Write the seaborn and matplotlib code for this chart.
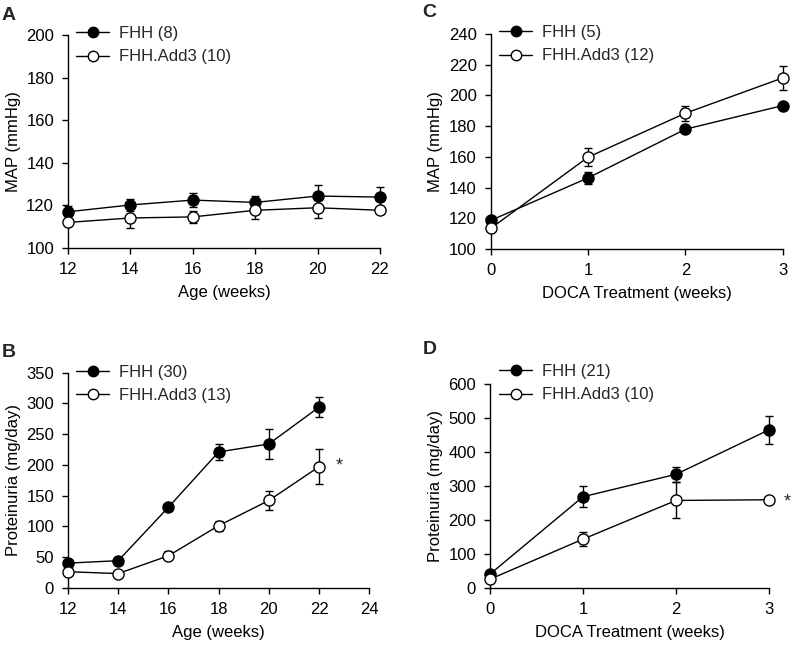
import numpy as np
import pandas as pd
import matplotlib
matplotlib.use("Agg")
import matplotlib.pyplot as plt
import seaborn as sns
from matplotlib.lines import Line2D

# ---------------- data ----------------
age_weeks = [12, 14, 16, 18, 20, 22]
doca_weeks = [0, 1, 2, 3]

# Panel A: MAP vs age
a_fhh = [117, 120.2, 122.5, 121.4, 124.4, 123.9]
a_fhh_err = [2.7, 2.6, 3.1, 2.8, 5.1, 4.7]
a_add3 = [112.0, 114.1, 114.6, 117.7, 118.9, 117.7]
a_add3_err = [1.0, 4.6, 2.7, 3.9, 4.8, 1.0]
a_labels = ["FHH (8)", "FHH.Add3 (10)"]

# Panel B: proteinuria vs age
b_fhh = [40, 44, 131, 221, 234, 294]
b_fhh_err = [3, 3, 4, 12.5, 25, 16]
b_add3 = [26, 23, 52, 101, 142, 197]
b_add3_err = [3, 3, 7, 8, 15, 28]
b_labels = ["FHH (30)", "FHH.Add3 (13)"]

# Panel C: MAP vs DOCA
c_fhh = [118.6, 146.3, 178.0, 193.4]
c_fhh_err = [1.0, 4.0, 1.5, 1.0]
c_add3 = [113.4, 159.8, 188.4, 211.4]
c_add3_err = [1.0, 6.0, 4.8, 8.0]
c_labels = ["FHH (5)", "FHH.Add3 (12)"]

# Panel D: proteinuria vs DOCA
d_fhh = [40, 268, 334, 465]
d_fhh_err = [5, 31, 22, 42]
d_add3 = [25, 143, 257, 259]
d_add3_err = [3, 20, 53, 2]
d_labels = ["FHH (21)", "FHH.Add3 (10)"]

# ---------------- style ----------------
sns.set_style("ticks")
plt.rcParams["font.family"] = ["Liberation Sans", "DejaVu Sans"]
FS = 12
plt.rcParams["font.size"] = FS
plt.rcParams["axes.linewidth"] = 1.0
plt.rcParams["xtick.color"] = "black"
plt.rcParams["ytick.color"] = "black"
plt.rcParams["axes.edgecolor"] = "black"
plt.rcParams["axes.labelcolor"] = "black"

fig = plt.figure(figsize=(7.96, 6.45), dpi=100)

W, H = 796, 645
def axes_px(left, right, top, bottom):
    return fig.add_axes([left / W, (H - bottom) / H, (right - left) / W, (bottom - top) / H])

axA = axes_px(68, 380, 35, 248)
axC = axes_px(490.7, 782.7, 34, 249)
axB = axes_px(68, 369.3, 372.7, 587.7)
axD = axes_px(490, 769, 384, 587.7)

MS = 8

def draw(ax, x, fhh, fhh_err, add3, add3_err, labels):
    df = pd.DataFrame({
        "x": list(x) * 2,
        "y": list(fhh) + list(add3),
        "group": [labels[0]] * len(x) + [labels[1]] * len(x),
    })
    ax.errorbar(x, fhh, yerr=fhh_err, fmt="none", ecolor="black", elinewidth=1.0,
                capsize=3, capthick=1.0, zorder=2, clip_on=False)
    ax.errorbar(x, add3, yerr=add3_err, fmt="none", ecolor="black", elinewidth=1.0,
                capsize=3, capthick=1.0, zorder=2, clip_on=False)
    sns.lineplot(data=df[df.group == labels[0]], x="x", y="y", ax=ax, color="black",
                 linewidth=1.0, marker="o", markersize=MS, markerfacecolor="black",
                 markeredgecolor="black", markeredgewidth=1.0, legend=False, zorder=3,
                 clip_on=False)
    sns.lineplot(data=df[df.group == labels[1]], x="x", y="y", ax=ax, color="black",
                 linewidth=1.0, marker="o", markersize=MS, markerfacecolor="white",
                 markeredgecolor="black", markeredgewidth=1.0, legend=False, zorder=4,
                 clip_on=False)
    handles = [
        Line2D([], [], color="black", lw=1.0, marker="o", markersize=MS - 0.5,
               markerfacecolor="black", markeredgecolor="black"),
        Line2D([], [], color="black", lw=1.0, marker="o", markersize=MS - 0.5,
               markerfacecolor="white", markeredgecolor="black"),
    ]
    return handles

def legend(ax, handles, labels, y_top_px, left_px, ax_left_px, ax_top_px, ax_h_px):
    ax.legend(handles, labels, loc="upper left", frameon=False, fontsize=FS,
              handlelength=2.0, handletextpad=0.6, labelspacing=0.5, borderpad=0,
              borderaxespad=0,
              bbox_to_anchor=((left_px - ax_left_px) / (ax.get_position().width * W),
                              1 + (ax_top_px - y_top_px) / ax_h_px))

# Panel A
h = draw(axA, age_weeks, a_fhh, a_fhh_err, a_add3, a_add3_err, a_labels)
axA.set_xlim(12, 22)
axA.set_ylim(100, 200)
axA.set_xticks(age_weeks)
axA.set_yticks([100, 120, 140, 160, 180, 200])
axA.set_xlabel("Age (weeks)")
axA.set_ylabel("MAP (mmHg)")
legend(axA, h, a_labels, 26, 76, 68, 35, 213)

# Panel B
h = draw(axB, age_weeks, b_fhh, b_fhh_err, b_add3, b_add3_err, b_labels)
axB.set_xlim(12, 24)
axB.set_ylim(0, 350)
axB.set_xticks([12, 14, 16, 18, 20, 22, 24])
axB.set_yticks([0, 50, 100, 150, 200, 250, 300, 350])
axB.set_xlabel("Age (weeks)")
axB.set_ylabel("Proteinuria (mg/day)")
axB.text(22.8, 198, "*", ha="center", va="center", fontsize=13)
legend(axB, h, b_labels, 364.5, 76, 68, 372.7, 215)

# Panel C
h = draw(axC, doca_weeks, c_fhh, c_fhh_err, c_add3, c_add3_err, c_labels)
axC.set_xlim(0, 3)
axC.set_ylim(100, 240)
axC.set_xticks(doca_weeks)
axC.set_yticks([100, 120, 140, 160, 180, 200, 220, 240])
axC.set_xlabel("DOCA Treatment (weeks)")
axC.set_ylabel("MAP (mmHg)")
legend(axC, h, c_labels, 25, 499, 490.7, 34, 215)

# Panel D
h = draw(axD, doca_weeks, d_fhh, d_fhh_err, d_add3, d_add3_err, d_labels)
axD.set_xlim(0, 3)
axD.set_ylim(0, 600)
axD.set_xticks(doca_weeks)
axD.set_yticks([0, 100, 200, 300, 400, 500, 600])
axD.set_xlabel("DOCA Treatment (weeks)")
axD.set_ylabel("Proteinuria (mg/day)")
axD.text(3.2, 253, "*", ha="center", va="center", fontsize=13)
legend(axD, h, d_labels, 364, 499, 490, 384, 203.7)

for ax in (axA, axB, axC, axD):
    sns.despine(ax=ax)
    ax.tick_params(labelsize=FS, width=1.0, length=4)
    ax.tick_params(axis="x", pad=6)
    ax.tick_params(axis="y", pad=6)
    ax.xaxis.labelpad = 6
    ax.yaxis.labelpad = 4

fig.text(2 / W, 1 - 7 / H, "A", fontsize=14, fontweight="bold", va="top", ha="left")
fig.text(2 / W, 1 - 344 / H, "B", fontsize=14, fontweight="bold", va="top", ha="left")
fig.text(422 / W, 1 - 4 / H, "C", fontsize=14, fontweight="bold", va="top", ha="left")
fig.text(423 / W, 1 - 341 / H, "D", fontsize=14, fontweight="bold", va="top", ha="left")

fig.savefig("out.png", dpi=100)
